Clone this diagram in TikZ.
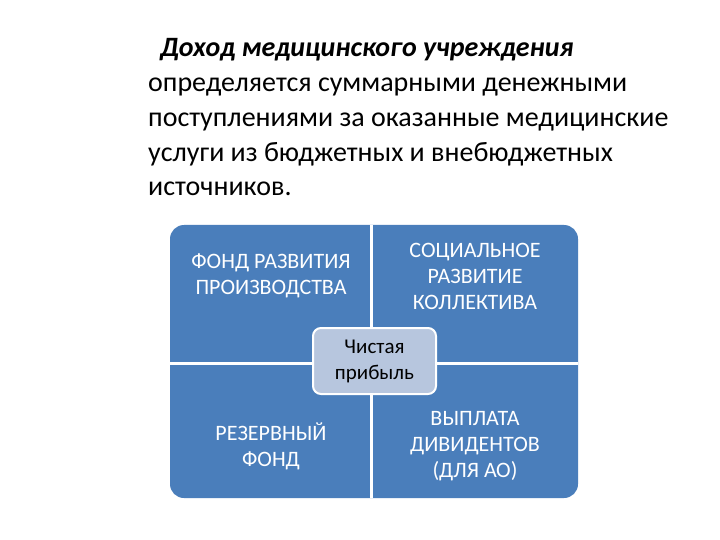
\documentclass[tikz,border=0pt]{standalone}
\usepackage{fontspec}
\setmainfont{Carlito}
\definecolor{qblue}{HTML}{4A7EBB}
\definecolor{cfill}{HTML}{B7C6DE}
\begin{document}
\begin{tikzpicture}[x=1pt,y=-1pt,
  qtext/.style={text=white,font=\fontsize{22}{26}\selectfont,align=center},
  ptext/.style={anchor=base west,font=\fontsize{28}{32}\selectfont,inner sep=0}]
\useasboundingbox[fill=white] (0,0) rectangle (720,540);
\node[ptext] (l1) at (160,57) {\textbf{\textit{Доход медицинского учреждения}}};
\node[ptext] (l2) at (148,92) {определяется суммарными денежными};
\node[ptext] (l3) at (148,127) {поступлениями за оказанные медицинские};
\node[ptext] (l4) at (148,162) {услуги из бюджетных и внебюджетных};
\node[ptext] (l5) at (148,196) {источников.};
\fill[qblue,rounded corners=14] (170,225) rectangle (578,498);
\draw[white,line width=2.5] (371.5,225) -- (371.5,498);
\draw[white,line width=2.5] (170,363.5) -- (578,363.5);
\node[qtext] (q1) at (271,276) {ФОНД РАЗВИТИЯ\\ПРОИЗВОДСТВА};
\node[qtext] (q2) at (475,276) {СОЦИАЛЬНОЕ\\РАЗВИТИЕ\\КОЛЛЕКТИВА};
\node[qtext] (q3) at (271,446) {РЕЗЕРВНЫЙ\\ФОНД};
\node[qtext] (q4) at (475,446) {ВЫПЛАТА\\ДИВИДЕНТОВ\\(ДЛЯ АО)};
\node[draw=white,line width=2,fill=cfill,rounded corners=8,minimum width=123,minimum height=66,
  align=center,font=\fontsize{21}{26}\selectfont] (c) at (374.5,361) {Чистая\\прибыль};
\end{tikzpicture}
\end{document}
